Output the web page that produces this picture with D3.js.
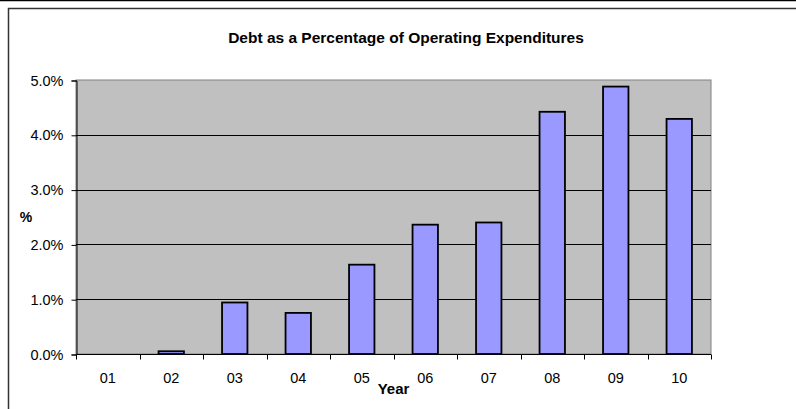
<!DOCTYPE html>
<html>
<head>
<meta charset="utf-8">
<script src="https://cdn.jsdelivr.net/npm/d3@7"></script>
<style>
  html, body { margin: 0; padding: 0; background: #fff; }
  svg { display: block; font-family: "Liberation Sans", Arial, sans-serif; }
</style>
</head>
<body>
<svg id="chart" width="796" height="409"></svg>
<script>
// Fiscal years (two-digit) and debt as a share of operating expenditures (%)
const years = ["01", "02", "03", "04", "05", "06", "07", "08", "09", "10"];
const debtPct = [0, 0.05, 0.94, 0.75, 1.63, 2.36, 2.40, 4.42, 4.88, 4.29];
const yTicks = [0, 1, 2, 3, 4, 5];

const title = "Debt as a Percentage of Operating Expenditures";
const xTitle = "Year";
const yTitle = "%";

const svg = d3.select("#chart");
const W = 796, H = 409;
const plot = { left: 76, right: 711, top: 80, bottom: 354 };

// outer frame
svg.append("line").attr("x1", 0).attr("x2", W).attr("y1", 0.5).attr("y2", 0.5)
  .attr("stroke", "#000").attr("stroke-width", 1.5);
svg.append("path").attr("d", `M8.5,${H}V8.5H${W}`)
  .attr("fill", "none").attr("stroke", "#333").attr("stroke-width", 1.5);

const x = d3.scaleBand().domain(years).range([plot.left, plot.right]).paddingInner(0.6).paddingOuter(0.3);
const band = d3.scaleBand().domain(years).range([plot.left, plot.right]);
const y = d3.scaleLinear().domain([0, 5]).range([plot.bottom, plot.top]);

// plot area
svg.append("rect")
  .attr("x", plot.left).attr("y", plot.top)
  .attr("width", plot.right - plot.left).attr("height", plot.bottom - plot.top)
  .attr("fill", "#c0c0c0").attr("stroke", "#808080").attr("stroke-width", 1);

// gridlines
svg.append("g").selectAll("line").data(yTicks.filter(t => t > 0 && t < 5)).join("line")
  .attr("x1", plot.left).attr("x2", plot.right)
  .attr("y1", d => Math.round(y(d)) + 0.5).attr("y2", d => Math.round(y(d)) + 0.5)
  .attr("stroke", "#000").attr("stroke-width", 1);

// bars
svg.append("g").selectAll("rect").data(years).join("rect")
  .attr("x", (d) => x(d))
  .attr("width", x.bandwidth())
  .attr("y", (d, i) => y(debtPct[i]))
  .attr("height", (d, i) => y(0) - y(debtPct[i]))
  .attr("fill", "#9999ff").attr("stroke", "#000").attr("stroke-width", 1.8);

// y axis
const yAxis = d3.axisLeft(y).tickValues(yTicks).tickFormat(d => d3.format(".1f")(d) + "%").tickSize(5).tickPadding(8);
const gy = svg.append("g").attr("transform", `translate(${plot.left + 0.5},0.5)`).call(yAxis);
gy.select(".domain").attr("stroke", "#000");
gy.selectAll(".tick line").attr("stroke", "#000");
gy.selectAll(".tick text").attr("font-size", 14.5).attr("fill", "#000")
  .attr("font-family", "'Liberation Sans', Arial, sans-serif");

// x axis: ticks between categories
const boundaries = years.map(d => band(d)).concat([plot.right]);
const gx = svg.append("g").attr("transform", `translate(0,${plot.bottom + 0.5})`);
gx.append("line").attr("x1", plot.left).attr("x2", plot.right).attr("stroke", "#000");
gx.selectAll("line.tk").data(boundaries).join("line").attr("class", "tk")
  .attr("x1", d => Math.round(d) + 0.5).attr("x2", d => Math.round(d) + 0.5)
  .attr("y1", 0).attr("y2", 5).attr("stroke", "#000");
gx.selectAll("text").data(years).join("text")
  .attr("x", d => band(d) + band.bandwidth() / 2)
  .attr("y", 28.5)
  .attr("text-anchor", "middle")
  .attr("font-size", 14.5).attr("fill", "#000")
  .text(d => d);

// titles
svg.append("text").attr("x", 406).attr("y", 43).attr("text-anchor", "middle")
  .attr("font-size", 15.5).attr("font-weight", "bold").text(title);
svg.append("text").attr("x", (plot.left + plot.right) / 2).attr("y", 394).attr("text-anchor", "middle")
  .attr("font-size", 15).attr("font-weight", "bold").text(xTitle);
svg.append("text").attr("x", 26).attr("y", 222).attr("text-anchor", "middle")
  .attr("font-size", 14).attr("font-weight", "bold").text(yTitle);
</script>
</body>
</html>
